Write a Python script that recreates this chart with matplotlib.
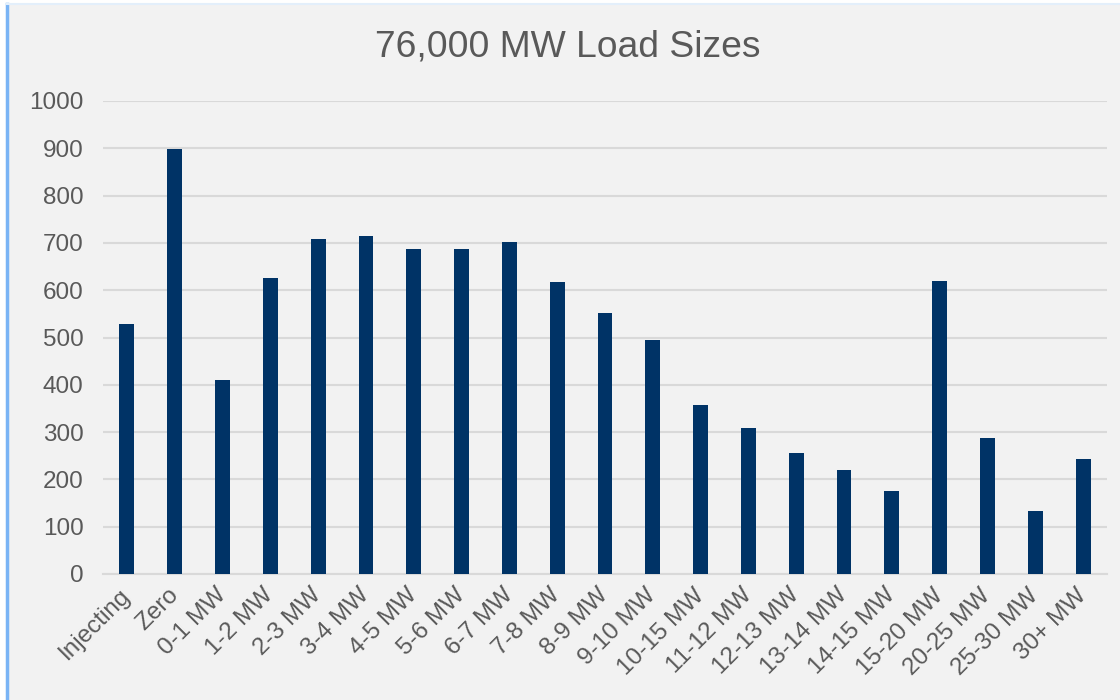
import matplotlib
matplotlib.use("Agg")
import matplotlib.pyplot as plt
from matplotlib.patches import Rectangle
from matplotlib.lines import Line2D

# data
categories = ["Injecting", "Zero", "0-1 MW", "1-2 MW", "2-3 MW", "3-4 MW",
              "4-5 MW", "5-6 MW", "6-7 MW", "7-8 MW", "8-9 MW", "9-10 MW",
              "10-15 MW", "11-12 MW", "12-13 MW", "13-14 MW", "14-15 MW",
              "15-20 MW", "20-25 MW", "25-30 MW", "30+ MW"]
counts = [528, 898, 411, 625, 709, 714, 687, 687, 702, 617, 552, 494,
          357, 309, 255, 219, 176, 619, 287, 134, 244]
yticks = list(range(0, 1001, 100))
title = "76,000 MW Load Sizes"

plt.rcParams['font.family'] = ['Liberation Sans', 'DejaVu Sans']

W, H = 1120, 700
fig = plt.figure(figsize=(W / 100, H / 100), dpi=100, facecolor="white")

# grey panel with the light blue border on the left and top
fig.patches.append(Rectangle((7 / W, 0), 1 - 7 / W, 1 - 4 / H, transform=fig.transFigure,
                             facecolor="#f2f2f2", edgecolor="none", zorder=-10))
fig.lines.append(Line2D([7 / W, 7 / W], [0, 1 - 4 / H], transform=fig.transFigure,
                        color="#7ab4f5", lw=2.5, zorder=-5))
fig.lines.append(Line2D([7 / W, 1], [1 - 4 / H, 1 - 4 / H], transform=fig.transFigure,
                        color="#e3effb", lw=1.5, zorder=-5))

ax = fig.add_axes([103 / W, 1 - 574 / H, (1107 - 103) / W, (574 - 101) / H])
ax.set_facecolor("none")

x = list(range(len(categories)))
ax.bar(x, counts, width=0.31, color="#003366", zorder=3)

ax.set_xlim(-0.5, len(categories) - 0.5)
ax.set_ylim(0, 1000)
ax.set_yticks(yticks)
ax.set_yticklabels([str(v) for v in yticks], fontsize=17.5, color="#595959")
ax.yaxis.grid(True, color="#d9d9d9", linewidth=1.5, zorder=0)
ax.set_axisbelow(True)

ax.set_xticks(x)
ax.set_xticklabels(categories, fontsize=17.5, color="#595959", rotation=45,
                   ha="right", va="center", rotation_mode="anchor")
ax.tick_params(axis="both", length=0)
ax.tick_params(axis="x", pad=13)
ax.tick_params(axis="y", pad=14)

for side in ["top", "right", "left"]:
    ax.spines[side].set_visible(False)
ax.spines["bottom"].set_color("#d9d9d9")
ax.spines["bottom"].set_linewidth(1.5)

fig.text(568 / W, 1 - 47 / H, title, ha="center", va="center", fontsize=26.8, color="#595959")

fig.savefig("out.png", dpi=100, facecolor=fig.get_facecolor())
